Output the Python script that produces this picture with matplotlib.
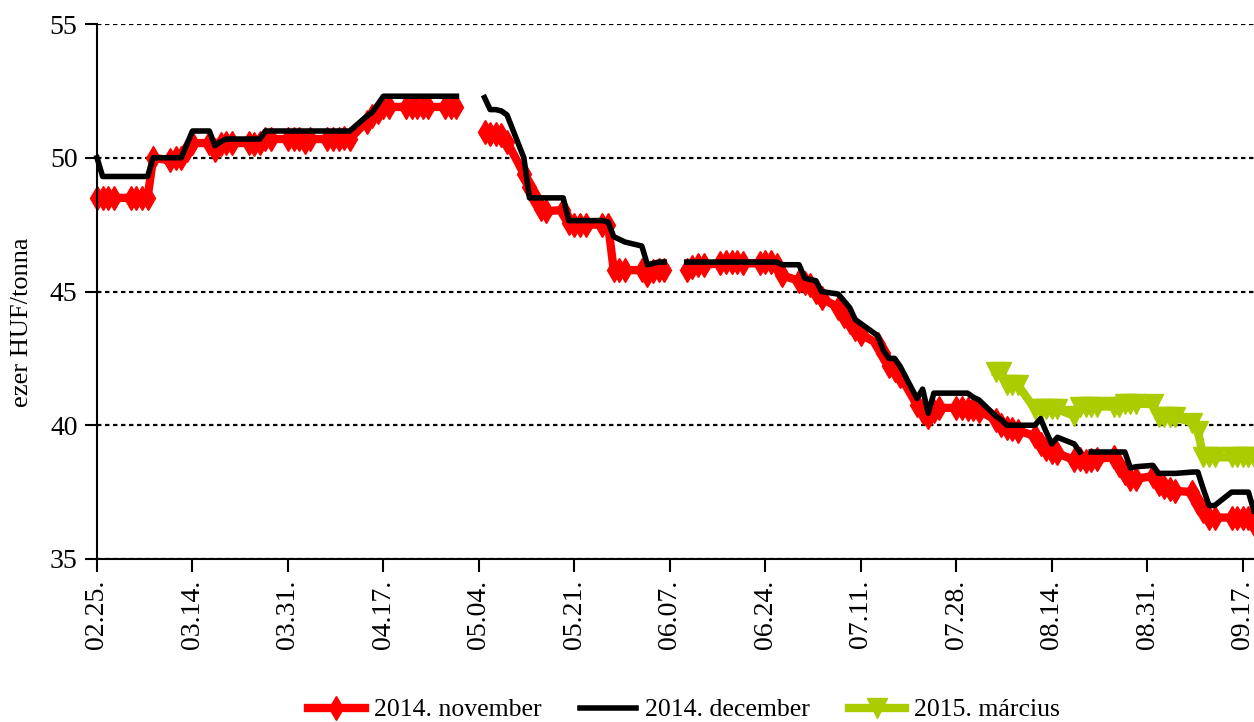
#!/usr/bin/env python3
"""Futures price paths for three delivery months."""

import numpy as np
import pandas as pd
import matplotlib

matplotlib.use("Agg")
import matplotlib.pyplot as plt
import matplotlib.dates as mdates

nan = np.nan

# trading days shown on the x axis
trade_days = pd.bdate_range("2014-02-25", "2014-09-19")
tick_days = pd.date_range("2014-02-25", periods=13, freq="17D")

# ezer HUF/tonna, one value per trading day
nov_2014 = [
    48.5, 48.5, 48.5, 48.5,  # feb
    48.5, 48.5, 48.5, 48.5, 50.0, 49.9, 50.0, 50.0, 50.3, 50.55, 50.55,
    50.3, 50.5, 50.55, 50.55, 50.55, 50.5, 50.55, 50.7, 50.7, 50.7,  # mar
    50.7, 50.7, 50.6, 50.7, 50.7, 50.7, 50.7, 50.75, 50.7, 51.35, 51.55,
    51.7, 51.9, 51.9, 51.9, 51.9, 51.9, 51.9, 51.9, 51.9, 51.9, 51.9,  # apr
    nan, nan, 50.95, 50.9, 50.9, 50.85, 50.6, 49.4, 48.9, 48.5, 48.1,
    48.0, 48.05, 47.55, 47.5, 47.5, 47.5, 47.5, 47.5, 45.8, 45.8, 45.8,  # may
    45.8, 45.6, 45.75, 45.8, 45.8, nan, 45.8, 45.9, 46.0, 46.0, 46.05,
    46.1, 46.1, 46.1, 46.05, 46.05, 46.1, 46.1, 46.0, 45.6, 45.4,  # jun
    45.3, 45.25, 45.0, 44.75, 44.4, 44.1, 43.85, 43.6, 43.4, 43.05, 42.7,
    42.2, 42.05, 41.85, 40.75, 40.5, 40.3, 40.55, 40.65, 40.65, 40.65,
    40.6, 40.6,  # jul
    40.55, 40.2, 40.0, 39.9, 39.85, 39.8, 39.6, 39.3, 39.1, 39.0, 38.95,
    38.7, 38.75, 38.65, 38.7, 38.75, 38.8, 38.5, 38.2, 38.0, 38.0,  # aug
    38.1, 37.8, 37.7, 37.6, 37.55, 37.5, 37.1, 36.8, 36.55, 36.55, 36.55,
    36.55, 36.55, 36.55, 36.3,  # sep
]

dec_2014 = [
    50.0, 49.3, 49.3, 49.3,  # feb
    49.3, 49.3, 49.3, 49.3, 50.0, 50.0, 50.0, 50.0, 50.5, 51.0, 51.0,
    50.45, 50.6, 50.7, 50.7, 50.7, 50.7, 50.7, 51.0, 51.0, 51.0,  # mar
    51.0, 51.0, 51.0, 51.0, 51.0, 51.0, 51.0, 51.0, 51.0, 51.55, 51.7,
    52.0, 52.3, 52.3, 52.3, 52.3, 52.3, 52.3, 52.3, 52.3, 52.3, 52.3,  # apr
    nan, nan, 52.25, 51.8, 51.8, 51.75, 51.6, 50.0, 48.5, 48.5, 48.5,
    48.5, 48.5, 47.65, 47.65, 47.65, 47.65, 47.65, 47.6, 47.05, 46.95,
    46.85,  # may
    46.7, 46.0, 46.05, 46.1, 46.1, nan, 46.1, 46.1, 46.1, 46.1, 46.1,
    46.1, 46.1, 46.1, 46.1, 46.1, 46.1, 46.1, 46.1, 46.0, 46.0,  # jun
    45.5, 45.45, 45.4, 45.0, 44.9, 44.65, 44.4, 43.95, 43.8, 43.35, 42.8,
    42.5, 42.5, 42.2, 41.0, 41.35, 40.45, 41.2, 41.2, 41.2, 41.2, 41.2,
    41.05,  # jul
    40.95, 40.35, 40.2, 40.0, 40.0, 40.0, 40.0, 40.25, 39.75, 39.3, 39.55,
    39.3, 39.0, nan, 39.0, 39.0, 39.0, 39.0, 39.0, 38.4, 38.45,  # aug
    38.5, 38.2, 38.2, 38.2, 38.2, 38.25, 38.25, 37.6, 37.0, 37.0, 37.5,
    37.5, 37.5, 37.5, 36.8,  # sep
]

mar_2015 = [nan] * 114 + [
    42.0, 42.0, 41.5, 41.5, 41.5, 40.6, 40.6, 40.6, 40.6, 40.6, 40.35,
    40.7, 40.7, 40.7, 40.7, 40.7, 40.7, 40.8, 40.8, 40.8,  # aug
    40.8, 40.3, 40.3, 40.3, 40.3, 40.1, 39.8, 38.8, 38.8, 38.8, 38.8,
    38.8, 38.8, 38.8, 38.8,  # sep
]

series_labels = ["2014. november", "2014. december", "2015. március"]


def main() -> None:
    plt.rcParams["font.family"] = ["Liberation Serif", "DejaVu Serif"]

    fig = plt.figure(figsize=(12.54, 7.22), dpi=100)
    ax = fig.add_axes([97 / 1254, 1 - 559 / 722, 1 - 97 / 1254, 535 / 722])

    ax.plot(trade_days, nov_2014, color="#FF0000", lw=6, marker="d", ms=12,
            mec="#FF0000", mfc="#FF0000", label=series_labels[0],
            clip_on=False, zorder=3)
    ax.plot(trade_days, mar_2015, color="#AACC00", lw=6, marker="v", ms=14,
            mec="#AACC00", mfc="#AACC00", label=series_labels[2],
            clip_on=False, zorder=4)
    ax.plot(trade_days, dec_2014, color="black", lw=4,
            label=series_labels[1], clip_on=False, zorder=5)

    ax.set_xlim(pd.Timestamp("2014-02-25"), pd.Timestamp("2014-09-19"))
    ax.set_ylim(35, 55)
    ax.set_yticks([35, 40, 45, 50, 55])
    ax.set_xticks(tick_days)
    ax.xaxis.set_major_formatter(mdates.DateFormatter("%m.%d."))
    ax.tick_params(axis="x", labelrotation=90, labelsize=20, direction="out",
                   length=9, width=1.5, pad=6)
    ax.tick_params(axis="y", labelsize=20, direction="out", length=9,
                   width=1.5, pad=5)

    ax.grid(axis="y", color="black", lw=1.6, linestyle=(0, (2, 1.6)))
    ax.grid(axis="x", visible=False)
    ax.set_axisbelow(True)
    for side in ("top", "right"):
        ax.spines[side].set_visible(False)
    for side in ("left", "bottom"):
        ax.spines[side].set_linewidth(1.5)
        ax.spines[side].set_zorder(6)

    fig.text(22 / 1254, 1 - 322 / 722, "ezer HUF/tonna", rotation=90,
             ha="center", va="center", fontsize=19)

    handles, labels = ax.get_legend_handles_labels()
    order = [0, 2, 1]
    handles = [handles[i] for i in order]
    labels = [labels[i] for i in order]
    fig.legend(handles, labels, loc="center",
               bbox_to_anchor=(684 / 1254, 1 - 710 / 722), ncol=3,
               frameon=False, fontsize=18.5, handlelength=2.2,
               handletextpad=0.35, columnspacing=1.5, numpoints=1)

    fig.savefig("out.png", dpi=100)


if __name__ == "__main__":
    main()
